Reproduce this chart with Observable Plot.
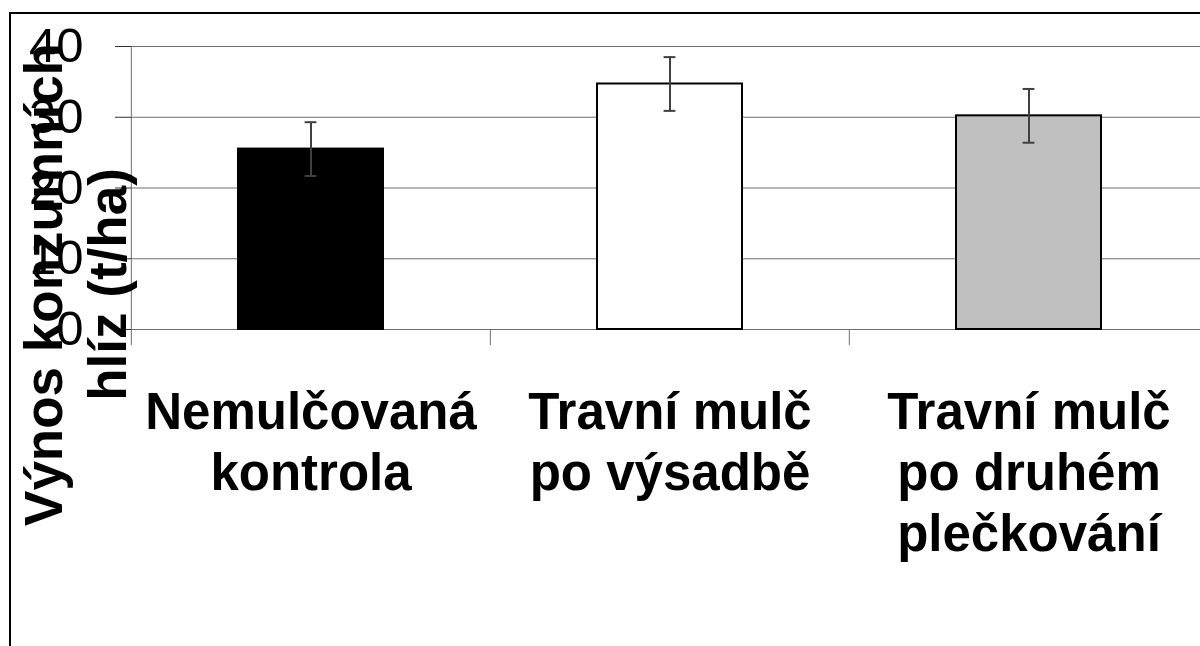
<!DOCTYPE html>
<html>
<head>
<meta charset="utf-8">
<script src="https://cdn.jsdelivr.net/npm/d3@7"></script>
<script src="https://cdn.jsdelivr.net/npm/@observablehq/plot@0.6"></script>
<style>
html, body { margin: 0; padding: 0; background: #fff; overflow: hidden; width: 1200px; height: 646px; }
#wrap { position: relative; width: 1200px; height: 646px; overflow: hidden; }
#border { position: absolute; left: 9px; top: 12px; width: 1400px; height: 800px; border-left: 2.5px solid #000; border-top: 2.5px solid #000; }
#chart { position: absolute; left: 0; top: 0; }
</style>
</head>
<body>
<div id="wrap"><div id="border"></div><div id="chart"></div></div>
<script>
// ---- data ----
const categories = ["Nemulčovaná\nkontrola", "Travní mulč\npo výsadbě", "Travní mulč\npo druhém\nplečkování"];
const yields = [25.5, 34.7, 30.2];
const errors = [3.8, 3.8, 3.8];
const yTicks = [0, 10, 20, 30, 40];
const yLabel = "Výnos konzumních\nhlíz (t/ha)";
const barColors = ["#000000", "#ffffff", "#c0c0c0"];

const data = categories.map((c, i) => ({cat: c, value: yields[i], lo: yields[i] - errors[i], hi: yields[i] + errors[i]}));

// ---- layout ----
const W = 1210, H = 646, ML = 131, MR = 1, MT = 46, MB = 317;
const padIn = 0.596, padOut = padIn / 2;
const step = (W - ML - MR) / categories.length;
const bw = step * (1 - padIn);
const capW = 12;

const plot = Plot.plot({
  width: W, height: H,
  marginLeft: ML, marginRight: MR, marginTop: MT, marginBottom: MB,
  style: {fontFamily: "'Liberation Sans', Arial, sans-serif", maxWidth: "none", background: "transparent", overflow: "visible", color: "#000"},
  x: {domain: categories, paddingInner: padIn, paddingOuter: padOut, label: null},
  y: {domain: [0, 40], label: null},
  color: {domain: categories, range: barColors},
  marks: [
    Plot.gridY(yTicks, {stroke: "#6e6e6e", strokeOpacity: 1, strokeWidth: 1}),
    // y axis line (extends below as the first category tick)
    Plot.ruleX([categories[0]], {x: d => d, dx: -step / 2, insetBottom: -16, stroke: "#6e6e6e", strokeWidth: 1}),
    // category separator ticks
    Plot.ruleX(categories.slice(1), {x: d => d, dx: -step / 2, y1: 0, y2: 0, insetBottom: -16, stroke: "#6e6e6e", strokeWidth: 1}),
    Plot.barY(data, {x: "cat", y: "value", fill: "cat", stroke: "#000", strokeWidth: 2}),
    Plot.ruleX(data, {x: "cat", y1: "lo", y2: "hi", stroke: "#404040", strokeWidth: 2}),
    Plot.tickY(data, {x: "cat", y: "lo", stroke: "#404040", strokeWidth: 2, inset: (bw - capW) / 2}),
    Plot.tickY(data, {x: "cat", y: "hi", stroke: "#404040", strokeWidth: 2, inset: (bw - capW) / 2}),
    Plot.axisY({ticks: yTicks, tickSize: 16, tickPadding: 32, fontSize: 49, stroke: "#303030", fill: "#000", label: null}),
    Plot.axisX({tickSize: 0, tickPadding: 56, fontSize: 51, fontWeight: "bold", lineHeight: 1.2, fill: "#000", label: null}),
    Plot.text([yLabel], {frameAnchor: "left", text: d => d, rotate: -90, textAnchor: "middle", lineAnchor: "middle",
      dx: -57.8, dy: 96.5, fontSize: 53, fontWeight: "bold", lineHeight: 1.2, fill: "#000"})
  ]
});
document.getElementById("chart").appendChild(plot);
</script>
</body>
</html>
